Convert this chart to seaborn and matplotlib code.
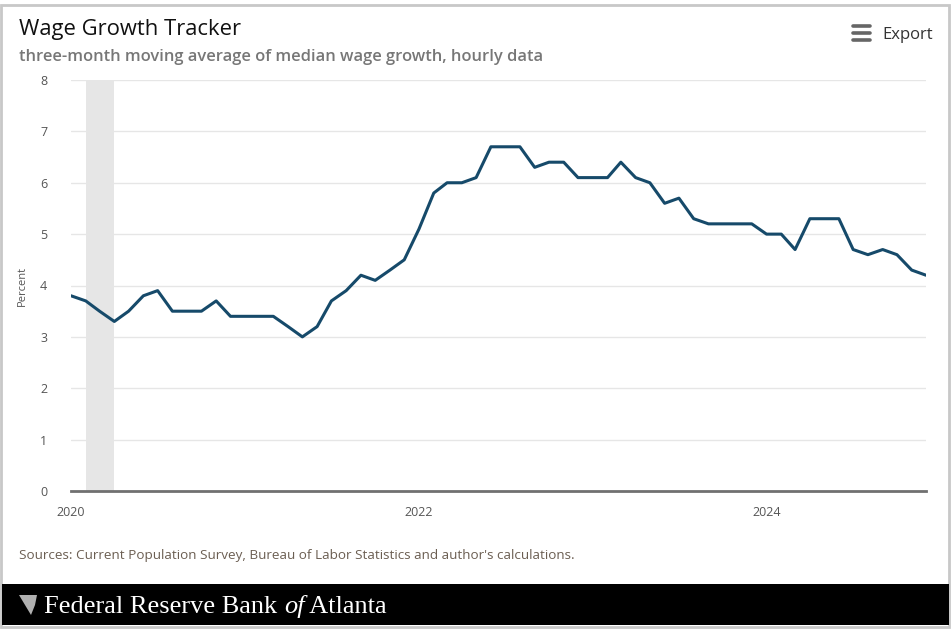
import matplotlib
matplotlib.use("Agg")
import matplotlib.pyplot as plt
import matplotlib.patches as mpatches
import matplotlib.lines as mlines
import seaborn as sns
import pandas as pd

# ---- data ----
start_month = "2020-01-01"
wage_growth = [
    3.8, 3.7, 3.5, 3.3, 3.5, 3.8, 3.9, 3.5, 3.5, 3.5, 3.7, 3.4,   # 2020
    3.4, 3.4, 3.4, 3.2, 3.0, 3.2, 3.7, 3.9, 4.2, 4.1, 4.3, 4.5,   # 2021
    5.1, 5.8, 6.0, 6.0, 6.1, 6.7, 6.7, 6.7, 6.3, 6.4, 6.4, 6.1,   # 2022
    6.1, 6.1, 6.4, 6.1, 6.0, 5.6, 5.7, 5.3, 5.2, 5.2, 5.2, 5.2,   # 2023
    5.0, 5.0, 4.7, 5.3, 5.3, 5.3, 4.7, 4.6, 4.7, 4.6, 4.3, 4.2,   # 2024
]
recession_start = "2020-02-01"
recession_end = "2020-04-01"
y_ticks = [0, 1, 2, 3, 4, 5, 6, 7, 8]
x_tick_years = ["2020-01-01", "2022-01-01", "2024-01-01"]
x_tick_labels = ["2020", "2022", "2024"]

title = "Wage Growth Tracker"
subtitle = "three-month moving average of median wage growth, hourly data"
source = "Sources: Current Population Survey, Bureau of Labor Statistics and author's calculations."

df = pd.DataFrame({
    "date": pd.date_range(start_month, periods=len(wage_growth), freq="MS"),
    "value": wage_growth,
})

sns.set_theme(style="white")
plt.rcParams["font.family"] = ["Open Sans", "DejaVu Sans"]

W, H = 952, 629
fig = plt.figure(figsize=(W / 100, H / 100), dpi=100)
fig.patch.set_facecolor("white")

def fx(px):
    return px / W

def fy(py):
    return 1 - py / H

ax = fig.add_axes([fx(71), fy(491), fx(926) - fx(71), fy(80) - fy(491)])
ax.set_facecolor("white")

ax.axvspan(pd.Timestamp(recession_start), pd.Timestamp(recession_end),
           color="#e6e6e6", lw=0, zorder=0)

for t in y_ticks[1:]:
    ax.axhline(t, color="#e6e6e6", lw=1, zorder=0.5)

sns.lineplot(data=df, x="date", y="value", ax=ax, color="#164a6a",
             linewidth=2.2, zorder=3)

ax.set_xlim(df["date"].iloc[0], df["date"].iloc[-1])
ax.set_ylim(0, 8)
ax.set_yticks(y_ticks)
ax.set_yticklabels([str(t) for t in y_ticks], fontsize=9, color="#555555")
ax.set_xticks([pd.Timestamp(d) for d in x_tick_years])
ax.set_xticklabels(x_tick_labels, fontsize=9, color="#555555")
ax.tick_params(axis="y", length=0, pad=17)
ax.tick_params(axis="x", length=10, width=1, color="#ccd6eb", pad=1, direction="out")
for s in ["top", "right", "left"]:
    ax.spines[s].set_visible(False)
ax.spines["bottom"].set_color("#707070")
ax.spines["bottom"].set_linewidth(2)
ax.spines["bottom"].set_zorder(4)
ax.set_xlabel("")
ax.set_ylabel("Percent", fontsize=8, color="#555555")
ax.yaxis.set_label_coords(-(71 - 28) / (926 - 71), 0.5)
ax.grid(False)

# ---- titles ----
fig.text(fx(19), fy(29), title, fontsize=15.8, color="#111111", va="center", ha="left",
         fontweight="medium")
fig.text(fx(19), fy(57), subtitle, fontsize=11.9, color="#777777", va="center",
         ha="left", fontweight="semibold")
fig.text(fx(19), fy(556), source, fontsize=9.7, color="#6b5e52", va="center", ha="left")

# Export button
fig.text(fx(882), fy(35), "Export", fontsize=12, color="#333333", va="center", ha="left")
for yy in (26, 33, 40):
    fig.add_artist(mlines.Line2D([fx(853), fx(870)], [fy(yy), fy(yy)], color="#666666",
                                 lw=2.6, solid_capstyle="round"))

# ---- frame & footer ----
fig.add_artist(mpatches.Rectangle((fx(1), fy(627)), fx(948), fy(5) - fy(627),
                                  transform=fig.transFigure, fill=False,
                                  edgecolor="#c8c8c8", lw=2))
fig.add_artist(mpatches.Rectangle((fx(2), fy(625)), fx(947), fy(584) - fy(625),
                                  transform=fig.transFigure, facecolor="black",
                                  edgecolor="none"))
# small logo shield
fig.add_artist(mpatches.Polygon([[fx(19), fy(595)], [fx(37), fy(595)], [fx(35), fy(605)],
                                 [fx(31), fy(615)], [fx(25), fy(605)]],
                                closed=True, transform=fig.transFigure,
                                facecolor="#b0b0b0", edgecolor="none"))

serif = ["Liberation Serif", "DejaVu Serif"]
fig.canvas.draw()
renderer = fig.canvas.get_renderer()
x0 = fx(44)
yb = fy(607)
fs = 19
t1 = fig.text(x0, yb, "Federal Reserve Bank ", fontsize=fs, color="white",
              family=serif, va="center", ha="left")
bb = t1.get_window_extent(renderer)
t2 = fig.text(bb.x1 / W, yb, "of", fontsize=fs, color="white", family=serif,
              style="italic", va="center", ha="left")
bb2 = t2.get_window_extent(renderer)
fig.text(bb2.x1 / W, yb, " Atlanta", fontsize=fs, color="white", family=serif,
         va="center", ha="left")

fig.savefig("out.png", dpi=100, facecolor="white")
